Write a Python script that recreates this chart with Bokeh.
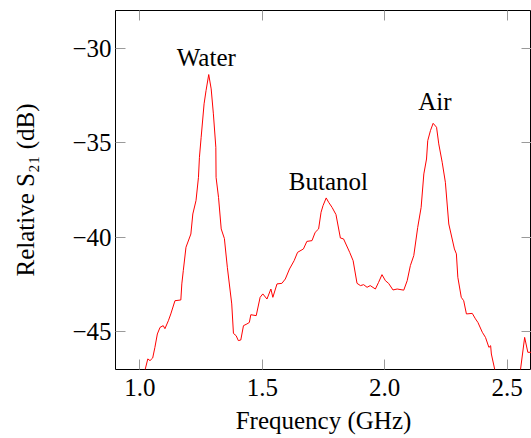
from bokeh.plotting import figure
from bokeh.models import LinearAxis, FixedTicker, Range1d, ColumnDataSource
from bokeh.core.properties import value
from bokeh.embed import file_html
from bokeh.resources import INLINE

freq = [0.98, 1.000, 1.021, 1.032, 1.041, 1.052, 1.061, 1.071, 1.082, 1.095, 1.102, 1.116, 1.126, 1.143,
        1.167, 1.171, 1.177, 1.188, 1.208, 1.216, 1.229, 1.239, 1.243, 1.250, 1.262, 1.270, 1.281, 1.291,
        1.300, 1.310, 1.311, 1.321, 1.332, 1.345, 1.357, 1.375, 1.382, 1.393, 1.402, 1.412, 1.423, 1.437,
        1.447, 1.453, 1.475, 1.491, 1.502, 1.519, 1.535, 1.543, 1.560, 1.580, 1.594, 1.611, 1.630, 1.644,
        1.668, 1.682, 1.703, 1.716, 1.730, 1.740, 1.748, 1.761, 1.771, 1.785, 1.801, 1.819, 1.832, 1.857,
        1.871, 1.887, 1.901, 1.914, 1.928, 1.941, 1.962, 1.975, 1.989, 2.003, 2.016, 2.034, 2.051, 2.078,
        2.092, 2.105, 2.119, 2.135, 2.149, 2.160, 2.171, 2.176, 2.187, 2.198, 2.212, 2.221, 2.235, 2.248,
        2.262, 2.285, 2.293, 2.299, 2.313, 2.323, 2.334, 2.358, 2.371, 2.381, 2.399, 2.412, 2.426, 2.433,
        2.436, 2.450, 2.47, 2.54, 2.555, 2.572, 2.585, 2.599, 2.62]

s21 = [-48.5, -47.9, -47.01, -46.44, -46.53, -46.39, -45.83, -45.12, -44.77, -44.68, -44.84, -44.42, -44.06, -43.36,
       -43.32, -42.47, -41.77, -40.53, -39.83, -38.77, -38.06, -36.83, -35.77, -34.71, -32.94, -32.24, -31.39, -32.15,
       -33.47, -35.24, -36.83, -37.89, -39.56, -40.07, -41.59, -43.53, -45.09, -45.21, -45.47, -45.44, -44.68, -44.59,
       -44.51, -44.10, -44.15, -43.18, -43.00, -43.27, -42.74, -43.18, -42.47, -42.44, -42.21, -41.68, -41.24, -40.80,
       -40.62, -40.22, -40.18, -39.74, -39.56, -38.68, -38.33, -37.92, -38.15, -38.42, -38.80, -40.04, -40.09, -40.80,
       -41.24, -42.44, -42.56, -42.51, -42.65, -42.56, -42.74, -42.39, -41.98, -42.30, -42.44, -42.79, -42.74, -42.80,
       -42.30, -41.50, -40.97, -39.48, -38.42, -36.65, -35.86, -34.89, -34.36, -33.97, -34.18, -35.06, -36.03, -37.09,
       -39.30, -40.62, -40.88, -42.12, -43.18, -43.36, -44.06, -44.03, -44.32, -44.51, -45.03, -45.30, -45.83, -45.74,
       -46.18, -47.01, -47.9, -47.9, -47.01, -45.30, -46.09, -46.09, -45.9]

peak_names = ["Water", "Butanol", "Air"]
peak_x = [1.271, 1.770, 2.205]
peak_y = [-30.50, -37.03, -32.80]

x_ticks = [1.0, 1.5, 2.0, 2.5]
x_tick_labels = ["1.0", "1.5", "2.0", "2.5"]
y_ticks = [-45, -40, -35, -30]
y_tick_labels = ["\u221245", "\u221240", "\u221235", "\u221230"]

FONT = "Liberation Serif"
TICK_COLOR = "#9a9a9a"

p = figure(width=531, height=438, x_range=Range1d(0.9, 2.6), y_range=Range1d(-47, -28),
           output_backend="svg", toolbar_location=None,
           min_border_left=115, min_border_right=0, min_border_top=10, min_border_bottom=69,
           x_axis_label="Frequency (GHz)", y_axis_label="Relative S\u2082\u2081 (dB)")
p.background_fill_color = "white"
p.border_fill_color = "white"
p.outline_line_color = "black"
p.outline_line_width = 1
p.xgrid.visible = False
p.ygrid.visible = False

src = ColumnDataSource(dict(x=freq, y=s21))
p.line("x", "y", source=src, line_color="#ff0000", line_width=1)

lsrc = ColumnDataSource(dict(x=peak_x, y=peak_y, t=peak_names))
p.text("x", "y", text="t", source=lsrc, text_font=value(FONT), text_font_size="25px",
       text_align="center", text_baseline="alphabetic", text_color="black")

xlab = {t: l for t, l in zip(x_ticks, x_tick_labels)}
ylab = {t: l for t, l in zip(y_ticks, y_tick_labels)}

for ax in p.xaxis:
    ax.ticker = FixedTicker(ticks=x_ticks)
    ax.major_label_overrides = xlab
for ax in p.yaxis:
    ax.ticker = FixedTicker(ticks=y_ticks)
    ax.major_label_overrides = ylab

for ax in list(p.xaxis) + list(p.yaxis):
    ax.axis_line_color = None
    ax.major_tick_in = 10
    ax.major_tick_out = 0
    ax.major_tick_line_color = TICK_COLOR
    ax.minor_tick_line_color = None
    ax.major_label_text_font = FONT
    ax.major_label_text_font_size = "25px"
    ax.major_label_text_color = "black"
    ax.axis_label_text_font = FONT
    ax.axis_label_text_font_size = "25px"
    ax.axis_label_text_font_style = "normal"
    ax.axis_label_text_color = "black"

p.xaxis.major_label_standoff = 9
p.xaxis.axis_label_standoff = 8
p.yaxis.major_label_standoff = 4
p.yaxis.axis_label_standoff = 30

top = LinearAxis(ticker=FixedTicker(ticks=x_ticks),
                 major_label_overrides={t: "" for t in x_ticks})
right = LinearAxis(ticker=FixedTicker(ticks=y_ticks),
                   major_label_overrides={t: "" for t in y_ticks})
for ax in (top, right):
    ax.axis_line_color = None
    ax.major_tick_in = 10
    ax.major_tick_out = 0
    ax.major_tick_line_color = TICK_COLOR
    ax.minor_tick_line_color = None
    ax.major_label_text_font_size = "1px"
    ax.major_label_standoff = 0
    ax.axis_label = None
p.add_layout(top, "above")
p.add_layout(right, "right")

open("out.html", "w").write(file_html(p, INLINE))
